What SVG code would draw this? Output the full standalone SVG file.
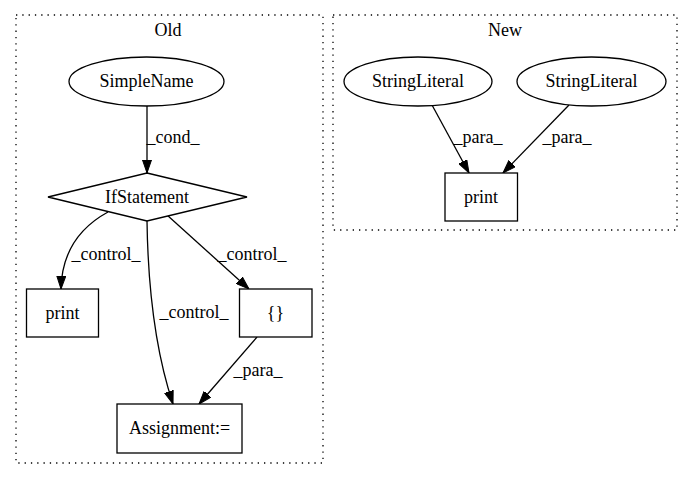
<svg xmlns="http://www.w3.org/2000/svg" width="693" height="480" viewBox="0 0 693 480">
<style>
text{font-family:"Liberation Serif","Times New Roman",serif;font-size:18px;fill:#000;text-anchor:middle}
.cl{fill:none;stroke:#000;stroke-width:1.3;stroke-dasharray:1.3,5}
.n{fill:#fff;stroke:#000;stroke-width:1.3}
.e{fill:none;stroke:#000;stroke-width:1.3;marker-end:url(#ah)}
</style>
<defs>
<marker id="ah" markerUnits="userSpaceOnUse" markerWidth="13" markerHeight="10" refX="13" refY="4.5" orient="auto" viewBox="0 0 13 9">
<path d="M0,0 L13,4.5 L0,9 z" fill="#000" stroke="#000" stroke-width="1"/>
</marker>
</defs>
<rect width="693" height="480" fill="#fff"/>
<g id="cluster_old">
<rect class="cl" x="16" y="15" width="307" height="448"/>
<text x="168" y="36">Old</text>
</g>
<g id="cluster_new">
<rect class="cl" x="333" y="15" width="344" height="215"/>
<text x="505" y="36">New</text>
</g>
<g id="edges">
<path class="e" d="M147,106 L147,173"/>
<text x="173" y="143">_cond_</text>
<path class="e" d="M108,212 C86,224 62,245 61,289"/>
<text x="106" y="260">_control_</text>
<path class="e" d="M147,221 C148,290 155,350 173,404"/>
<text x="194" y="318">_control_</text>
<path class="e" d="M167,215 L249,289"/>
<text x="252" y="260">_control_</text>
<path class="e" d="M257,337 L199,404"/>
<text x="258" y="376">_para_</text>
<path class="e" d="M432,105 L469,173"/>
<text x="478" y="143">_para_</text>
<path class="e" d="M569,105 L503,173"/>
<text x="567" y="143">_para_</text>
</g>
<g id="SimpleName">
<ellipse class="n" cx="146.5" cy="81.5" rx="77.5" ry="24.5"/>
<text x="146.5" y="87">SimpleName</text>
</g>
<g id="IfStatement">
<polygon class="n" points="147,173 247,197 147,221 48,197"/>
<text x="147" y="203">IfStatement</text>
</g>
<g id="print_old">
<rect class="n" x="26.5" y="289" width="72" height="48"/>
<text x="62.5" y="319">print</text>
</g>
<g id="braces">
<rect class="n" x="239.5" y="289" width="72.5" height="48"/>
<text x="275.5" y="319">{}</text>
</g>
<g id="Assignment">
<rect class="n" x="117" y="404" width="125" height="49"/>
<text x="179.5" y="434">Assignment:=</text>
</g>
<g id="StringLiteral1">
<ellipse class="n" cx="418" cy="81.5" rx="74" ry="24.5"/>
<text x="418" y="87">StringLiteral</text>
</g>
<g id="StringLiteral2">
<ellipse class="n" cx="591.5" cy="81.5" rx="74.5" ry="24.5"/>
<text x="591.5" y="87">StringLiteral</text>
</g>
<g id="print_new">
<rect class="n" x="445" y="173" width="72.5" height="48"/>
<text x="481" y="203">print</text>
</g>
</svg>
